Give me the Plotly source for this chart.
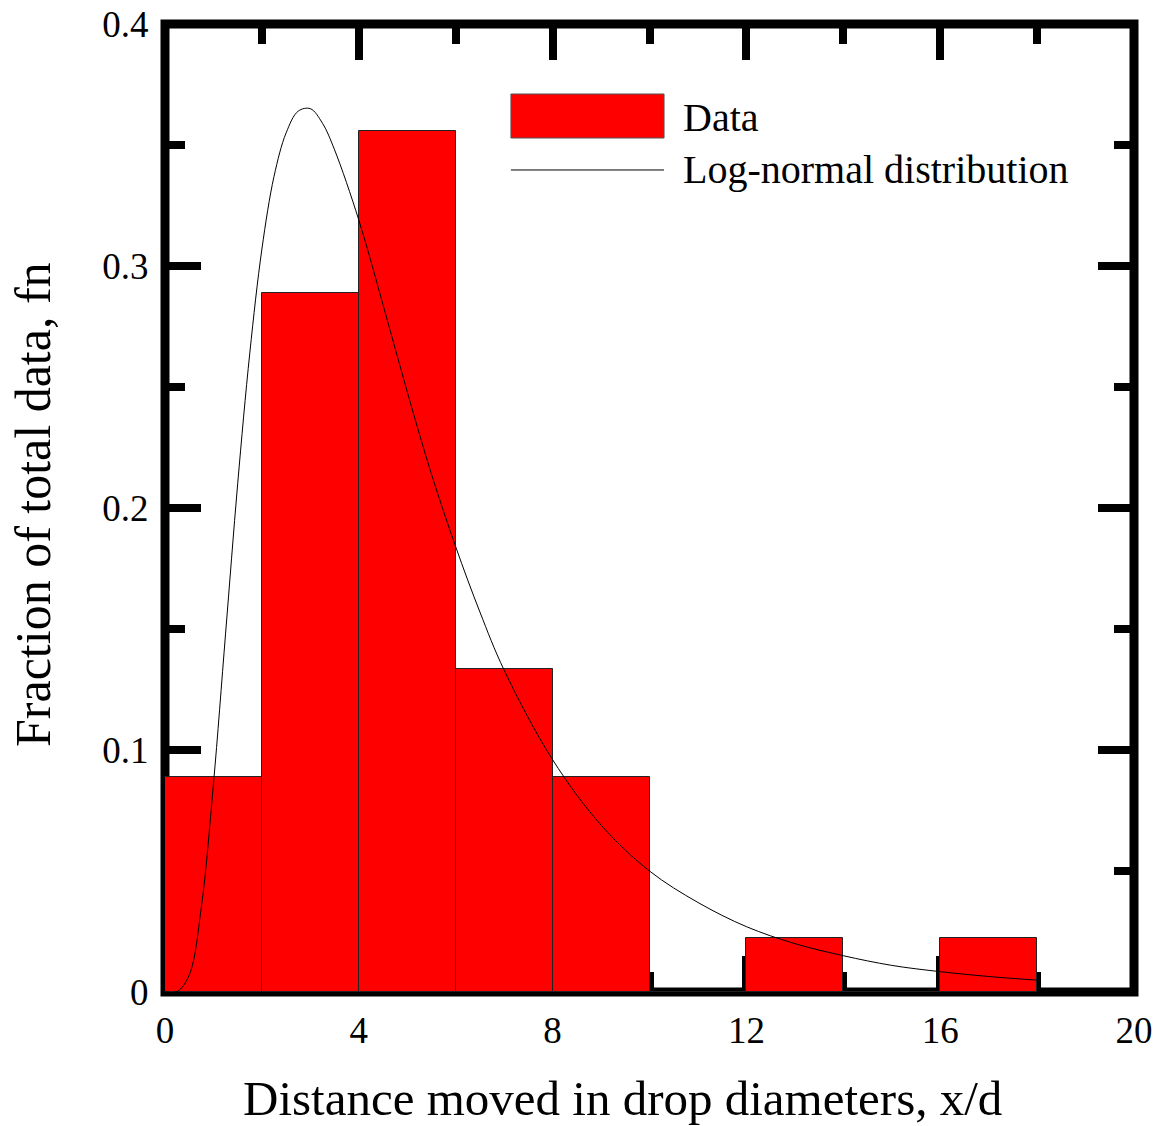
import plotly.graph_objects as go

# Histogram data (bin left edges, width 2)
bin_left = [0, 2, 4, 6, 8, 10, 12, 14, 16]
fraction = [0.0889, 0.2889, 0.3556, 0.1333, 0.0889, 0.0, 0.0222, 0.0, 0.0222]
bin_width = 2

# Log-normal distribution curve
curve_x = [0, 0.25, 0.5, 0.75, 1.0, 1.25, 1.5, 1.75, 2.0, 2.25, 2.5, 2.75, 3.0, 3.25,
           3.5, 4.0, 4.5, 5.0, 5.5, 6.0, 6.5, 7.0, 8.0, 9.0, 10.0, 11.0, 12.0, 13.0,
           14.0, 15.0, 16.0, 17.0, 18.0]
curve_y = [0, 0.0002, 0.007, 0.035, 0.086, 0.148, 0.210, 0.264, 0.307, 0.337, 0.355,
           0.364, 0.365, 0.359, 0.348, 0.319, 0.284, 0.248, 0.214, 0.184, 0.157, 0.133,
           0.096, 0.069, 0.050, 0.037, 0.027, 0.020, 0.015, 0.011, 0.0084, 0.0064, 0.0049]

x_ticks = [0, 4, 8, 12, 16, 20]
x_ticktext = ["0", "4", "8", "12", "16", "20"]
y_ticks = [0, 0.1, 0.2, 0.3, 0.4]
y_ticktext = ["0", "0.1", "0.2", "0.3", "0.4"]

FONT = "Liberation Serif, Times New Roman, serif"

fig = go.Figure()
fig.add_trace(go.Bar(
    x=[b + bin_width / 2 for b in bin_left], y=fraction, width=bin_width,
    marker=dict(color="#ff0000", line=dict(color="#222222", width=1)),
    name="Data", showlegend=False,
))
fig.add_trace(go.Scatter(
    x=curve_x, y=curve_y, mode="lines", line=dict(color="black", width=1, shape="spline"),
    name="Log-normal distribution", showlegend=False,
))

axis_common = dict(
    showline=True, linecolor="black", linewidth=1, mirror="allticks",
    ticks="inside", tickwidth=8, ticklen=36, tickcolor="black",
    showgrid=False, zeroline=False, layer="below traces", automargin=False,
    tickfont=dict(family=FONT, size=37, color="black"),
)

fig.update_xaxes(
    range=[0, 20], tickvals=x_ticks, ticktext=x_ticktext,
    minor=dict(ticks="inside", ticklen=20, tickwidth=8, tickcolor="black", dtick=2, tick0=0, showgrid=False),
    ticklabelstandoff=6,
    **axis_common,
)
fig.update_yaxes(
    range=[0, 0.4], tickvals=y_ticks, ticktext=y_ticktext,
    minor=dict(ticks="inside", ticklen=20, tickwidth=8, tickcolor="black", dtick=0.05, tick0=0, showgrid=False),
    ticklabelstandoff=8,
    **axis_common,
)

# Thick frame around the plotting area (beneath the bars, as in the original)
fig.add_shape(type="rect", xref="paper", yref="paper", x0=0, x1=1, y0=0, y1=1,
              line=dict(color="black", width=9), fillcolor="rgba(0,0,0,0)", layer="below")

# Axis titles
fig.add_annotation(xref="paper", yref="paper", x=(622 - 165) / 969, y=-(1098 - 992) / 968,
                   text="Distance moved in drop diameters, x/d", showarrow=False,
                   xanchor="center", yanchor="middle", font=dict(family=FONT, size=49, color="black"))
fig.add_annotation(xref="paper", yref="paper", x=-(165 - 33) / 969, y=(992 - 505) / 968,
                   text="Fraction of total data, fn", showarrow=False, textangle=-90,
                   xanchor="center", yanchor="middle", font=dict(family=FONT, size=50, color="black"))

# Legend
fig.add_shape(type="rect", xref="paper", yref="paper", x0=0.357, x1=0.515, y0=0.8822, y1=0.9277,
              fillcolor="#ff0000", line=dict(color="#555555", width=1))
fig.add_shape(type="line", xref="paper", yref="paper", x0=0.357, x1=0.515, y0=0.8492, y1=0.8492,
              line=dict(color="black", width=1))
fig.add_annotation(xref="paper", yref="paper", x=0.5325, y=0.9029, text="Data", showarrow=False,
                   xanchor="left", yanchor="middle", font=dict(family=FONT, size=40, color="black"))
fig.add_annotation(xref="paper", yref="paper", x=0.5325, y=0.8492, text="Log-normal distribution", showarrow=False,
                   xanchor="left", yanchor="middle", font=dict(family=FONT, size=40, color="black"))

fig.update_layout(
    width=1168, height=1126,
    margin=dict(l=165, r=34, t=24, b=134, autoexpand=False),
    plot_bgcolor="white", paper_bgcolor="white",
    bargap=0, showlegend=False,
)

fig.write_html("out.html")
